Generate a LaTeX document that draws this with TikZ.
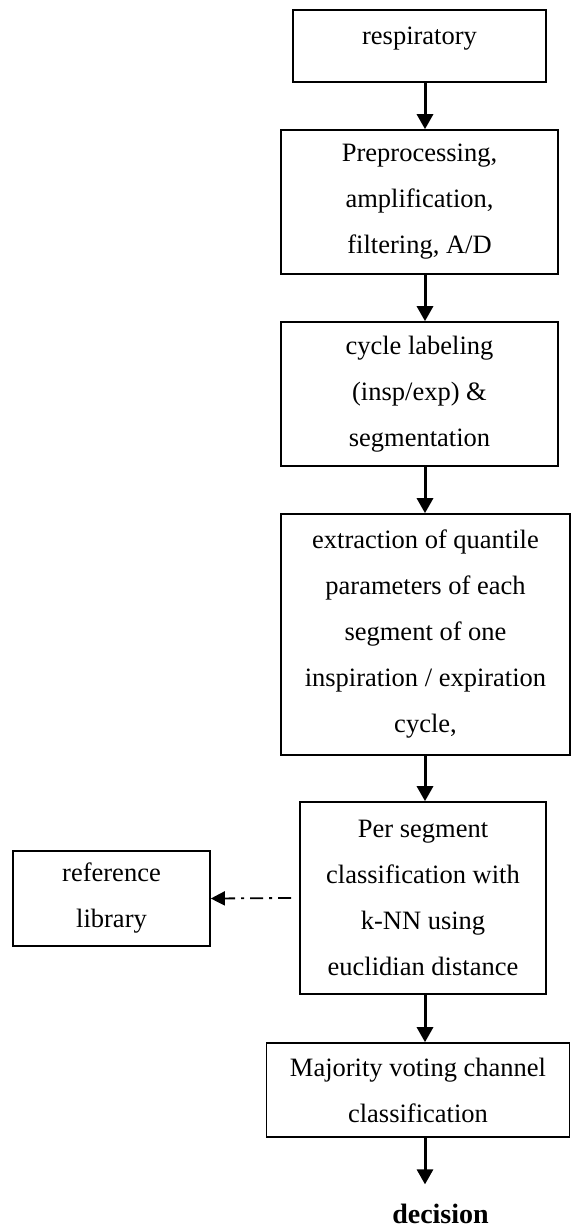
\documentclass[tikz,border=0pt]{standalone}
\usepackage{fontspec}
\setmainfont{Liberation Serif}
\usetikzlibrary{arrows.meta}
\begin{document}
\begin{tikzpicture}[x=1pt,y=-1pt,
  box/.style={draw=black, line width=1.6pt, fill=white, align=center,
    inner sep=0pt, font=\fontsize{26.5}{46}\selectfont},
  arr/.style={line width=3pt, -{Triangle[width=16pt,length=15pt]}},
  dashdot/.style={line width=1.8pt, dash pattern=on 13pt off 6pt on 3pt off 6pt,
    -{Triangle[width=14pt,length=14pt]}}]
  \useasboundingbox (0,0) rectangle (571,1227);
  % centre line of the main arrows
  \coordinate (col) at (425,0);

  \node[box, minimum width=253pt, minimum height=72pt, text depth=20pt]
    (b1) at (419.5,46) {respiratory};
  \node[box, minimum width=277pt, minimum height=144pt]
    (b2) at (419.5,202) {Preprocessing,\\amplification,\\filtering, A/D};
  \node[box, minimum width=277pt, minimum height=144pt]
    (b3) at (419.5,394) {cycle labeling\\(insp/exp) \&\\segmentation};
  \node[box, minimum width=289pt, minimum height=241pt]
    (b4) at (425.5,634.5) {extraction of quantile\\parameters of each\\segment of one\\inspiration / expiration\\cycle,};
  \node[box, minimum width=246pt, minimum height=192pt]
    (b5) at (423,898) {Per segment\\classification with\\k-NN using\\euclidian distance};
  \node[box, minimum width=197pt, minimum height=95pt]
    (lib) at (111.5,898.5) {reference\\library};
  \node[box, minimum width=303pt, minimum height=94pt]
    (b6) at (418,1090) {Majority voting channel\\classification};
  \node[anchor=base, inner sep=0pt, font=\fontsize{28}{30}\selectfont\bfseries]
    (dec) at (440.5,1223) {decision};

  \draw[arr] (b1.south -| col) -- (b2.north -| col);
  \draw[arr] (b2.south -| col) -- (b3.north -| col);
  \draw[arr] (b3.south -| col) -- (b4.north -| col);
  \draw[arr] (b4.south -| col) -- (b5.north -| col);
  \draw[arr] (b5.south -| col) -- (b6.north -| col);
  \draw[arr, shorten >=19pt] (b6.south -| col) -- (dec.north -| col);
  \draw[dashdot] ([xshift=-8pt]b5.west) -- (lib.east);
\end{tikzpicture}
\end{document}
